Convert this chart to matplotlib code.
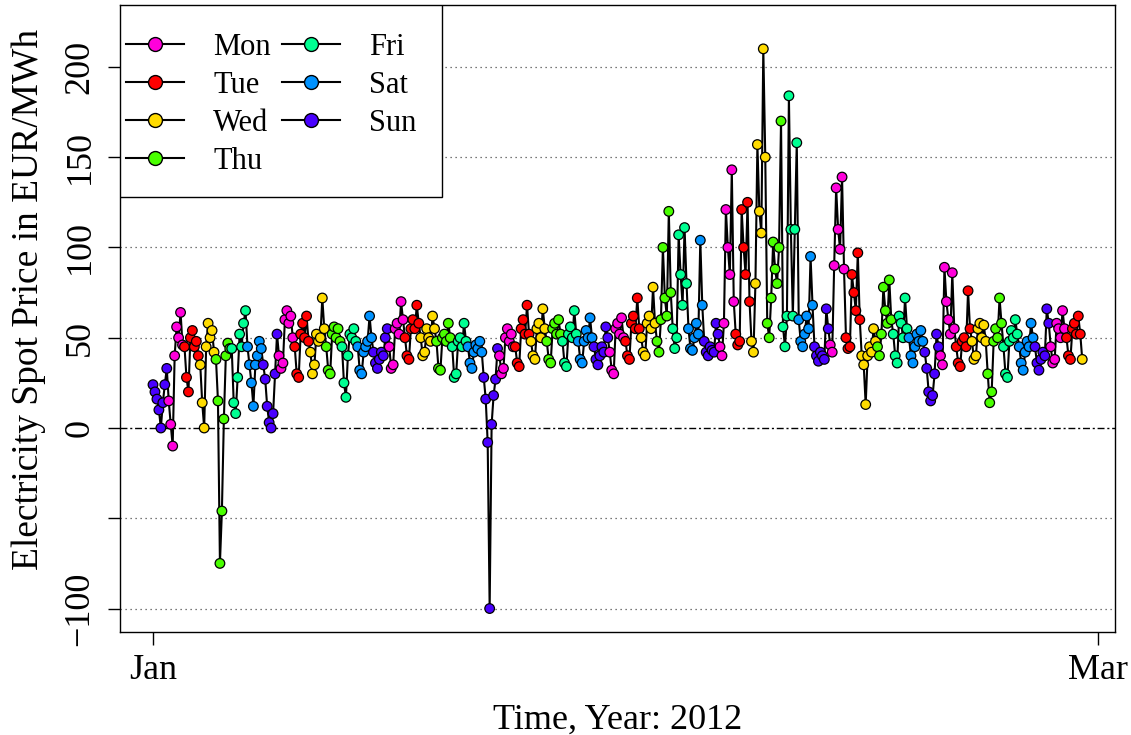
import numpy as np
import pandas as pd
import matplotlib
matplotlib.use('Agg')
import matplotlib.pyplot as plt
from matplotlib.lines import Line2D
from matplotlib.patches import Rectangle

# spot prices, one row per day, every 3 hours (0h, 3h, ... 21h)
jan_prices = [
    [24, 20, 16, 10, 0, 14, 24, 33],      # Sun 1
    [15, 2, -10, 40, 56, 50, 64, 46],
    [45, 28, 20, 50, 54, 45, 48, 40],
    [35, 14, 0, 45, 58, 50, 54, 42],
    [38, 15, -75, -46, 5, 40, 47, 44],
    [44, 14, 8, 28, 52, 45, 58, 65],
    [45, 35, 25, 12, 35, 40, 48, 44],
    [35, 27, 12, 3, 0, 8, 30, 52],        # Sun 8
    [40, 33, 36, 60, 65, 58, 62, 50],
    [45, 30, 28, 52, 58, 50, 62, 48],
    [42, 30, 35, 52, 48, 50, 72, 55],
    [45, 32, 30, 52, 56, 50, 55, 48],
    [45, 25, 17, 40, 52, 50, 55, 48],
    [45, 32, 30, 42, 45, 48, 62, 50],
    [42, 36, 33, 38, 42, 40, 50, 55],     # Sun 15
    [45, 33, 35, 55, 58, 52, 70, 60],
    [50, 40, 38, 55, 60, 55, 68, 58],
    [50, 40, 42, 55, 50, 48, 62, 55],
    [48, 33, 32, 50, 52, 48, 58, 50],
    [45, 28, 30, 48, 50, 45, 58, 48],
    [45, 36, 33, 42, 46, 44, 48, 42],
    [28, 16, -8, -100, 2, 18, 27, 44],    # Sun 22
    [40, 30, 33, 50, 55, 48, 52, 45],
    [45, 36, 34, 55, 60, 52, 68, 52],
    [48, 40, 38, 55, 58, 50, 66, 55],
    [48, 38, 36, 55, 58, 52, 60, 52],
    [48, 36, 34, 52, 56, 50, 65, 52],
    [48, 38, 36, 48, 54, 50, 61, 50],
    [45, 38, 35, 40, 45, 42, 56, 50],     # Sun 29
    [42, 32, 30, 55, 58, 52, 61, 50],
    [48, 40, 38, 58, 62, 55, 72, 55],
]

feb_prices = [
    [50, 42, 40, 58, 62, 55, 78, 58],     # Wed 1
    [48, 42, 60, 100, 72, 62, 120, 75],
    [55, 44, 50, 107, 85, 68, 111, 80],
    [55, 44, 43, 50, 58, 52, 104, 68],
    [48, 42, 40, 45, 43, 42, 58, 52],     # Sun 5
    [45, 40, 58, 121, 100, 85, 143, 70],
    [52, 46, 48, 121, 100, 85, 125, 70],
    [48, 42, 80, 157, 120, 108, 210, 150],
    [58, 50, 72, 103, 88, 80, 100, 170],
    [56, 45, 62, 184, 110, 62, 110, 158],
    [60, 48, 45, 52, 62, 55, 95, 68],
    [45, 40, 37, 42, 40, 38, 66, 55],     # Sun 12
    [46, 42, 90, 133, 110, 99, 139, 88],
    [50, 44, 45, 85, 75, 65, 97, 60],
    [40, 35, 13, 40, 45, 42, 55, 48],
    [45, 40, 52, 78, 65, 58, 82, 60],
    [52, 40, 36, 62, 58, 50, 72, 55],
    [50, 40, 36, 45, 52, 48, 54, 48],
    [42, 33, 20, 15, 18, 30, 52, 45],     # Sun 19
    [40, 35, 89, 70, 60, 52, 86, 55],
    [45, 36, 34, 48, 50, 45, 76, 55],
    [48, 38, 40, 55, 58, 50, 57, 48],
    [30, 14, 20, 48, 55, 50, 72, 58],
    [45, 30, 28, 48, 54, 50, 60, 52],
    [45, 36, 32, 42, 48, 45, 58, 50],
    [45, 36, 32, 38, 42, 40, 66, 58],     # Sun 26
    [45, 36, 38, 58, 55, 50, 65, 55],
    [50, 40, 38, 55, 58, 52, 62, 52],
]

last_price = [38]   # Wed 29, midnight

weekdays = ['Mon', 'Tue', 'Wed', 'Thu', 'Fri', 'Sat', 'Sun']
day_colors = ['#FF00DB', '#FF0000', '#FFDB00', '#49FF00', '#00FF92', '#0092FF', '#4900FF']

y_ticks = [-100, -50, 0, 50, 100, 150, 200]
y_labels = ['\u2212100', '', '0', '50', '100', '150', '200']


def main():
    plt.rcParams['font.family'] = ['Liberation Serif', 'DejaVu Serif']

    prices = np.concatenate([np.ravel(jan_prices), np.ravel(feb_prices), last_price])
    times = pd.date_range('2012-01-01', periods=len(prices), freq='3h')
    colors = [day_colors[d] for d in times.dayofweek]

    fig = plt.figure(figsize=(11.31, 7.35), dpi=100)
    ax = fig.add_axes([120 / 1131, 103 / 735, 995 / 1131, 627 / 735])

    for v in y_ticks:
        if v != 0:
            ax.axhline(v, color='0.3', lw=0.9, ls=(0, (1, 3)), zorder=1)
    ax.axhline(0, color='black', lw=1.0, ls=(0, (5, 2, 1.5, 2)), zorder=2)

    ax.plot(times, prices, color='black', lw=1.5, zorder=3)
    ax.scatter(times, prices, c=colors, s=48, edgecolors='black',
               linewidths=0.9, zorder=4)

    t0 = pd.Timestamp('2012-01-01')
    ax.set_xlim(t0 - pd.Timedelta(days=2.095), t0 + pd.Timedelta(days=61.08))
    ax.set_ylim(-113, 234.3)

    ax.set_xticks([t0, pd.Timestamp('2012-03-01')])
    ax.set_xticklabels(['Jan', 'Mar'])
    ax.set_yticks(y_ticks)
    ax.set_yticklabels(y_labels, rotation=90, va='center')
    ax.tick_params(direction='out', length=9, width=1, labelsize=26, colors='black')
    ax.tick_params(axis='x', pad=7)
    ax.tick_params(axis='y', pad=8)
    for s in ax.spines.values():
        s.set_linewidth(1.0)

    ax.set_xlabel('Time, Year: 2012', fontsize=26, labelpad=12)
    ax.set_ylabel('Electricity Spot Price in EUR/MWh', fontsize=27)
    ax.yaxis.set_label_coords(-74 / 995, 0.53)

    # legend box
    ax.add_patch(Rectangle((0, 1 - 192 / 627), 322 / 995, 192 / 627,
                           transform=ax.transAxes, facecolor='white',
                           edgecolor='black', lw=1.0, zorder=5))
    handles = [Line2D([0], [0], color='black', lw=1.5, marker='o', markersize=10,
                      markerfacecolor=c, markeredgecolor='black', markeredgewidth=1.0)
               for c in day_colors]
    leg = ax.legend(handles, weekdays, ncol=2, loc='upper left',
                    bbox_to_anchor=(0.006, 0.956), borderaxespad=0, borderpad=0,
                    frameon=False, fontsize=22, handlelength=1.9,
                    handletextpad=0.95, columnspacing=0.36, labelspacing=0.3,
                    numpoints=1)
    leg.set_zorder(6)

    fig.savefig('out.png', dpi=100)


if __name__ == "__main__":
    main()
